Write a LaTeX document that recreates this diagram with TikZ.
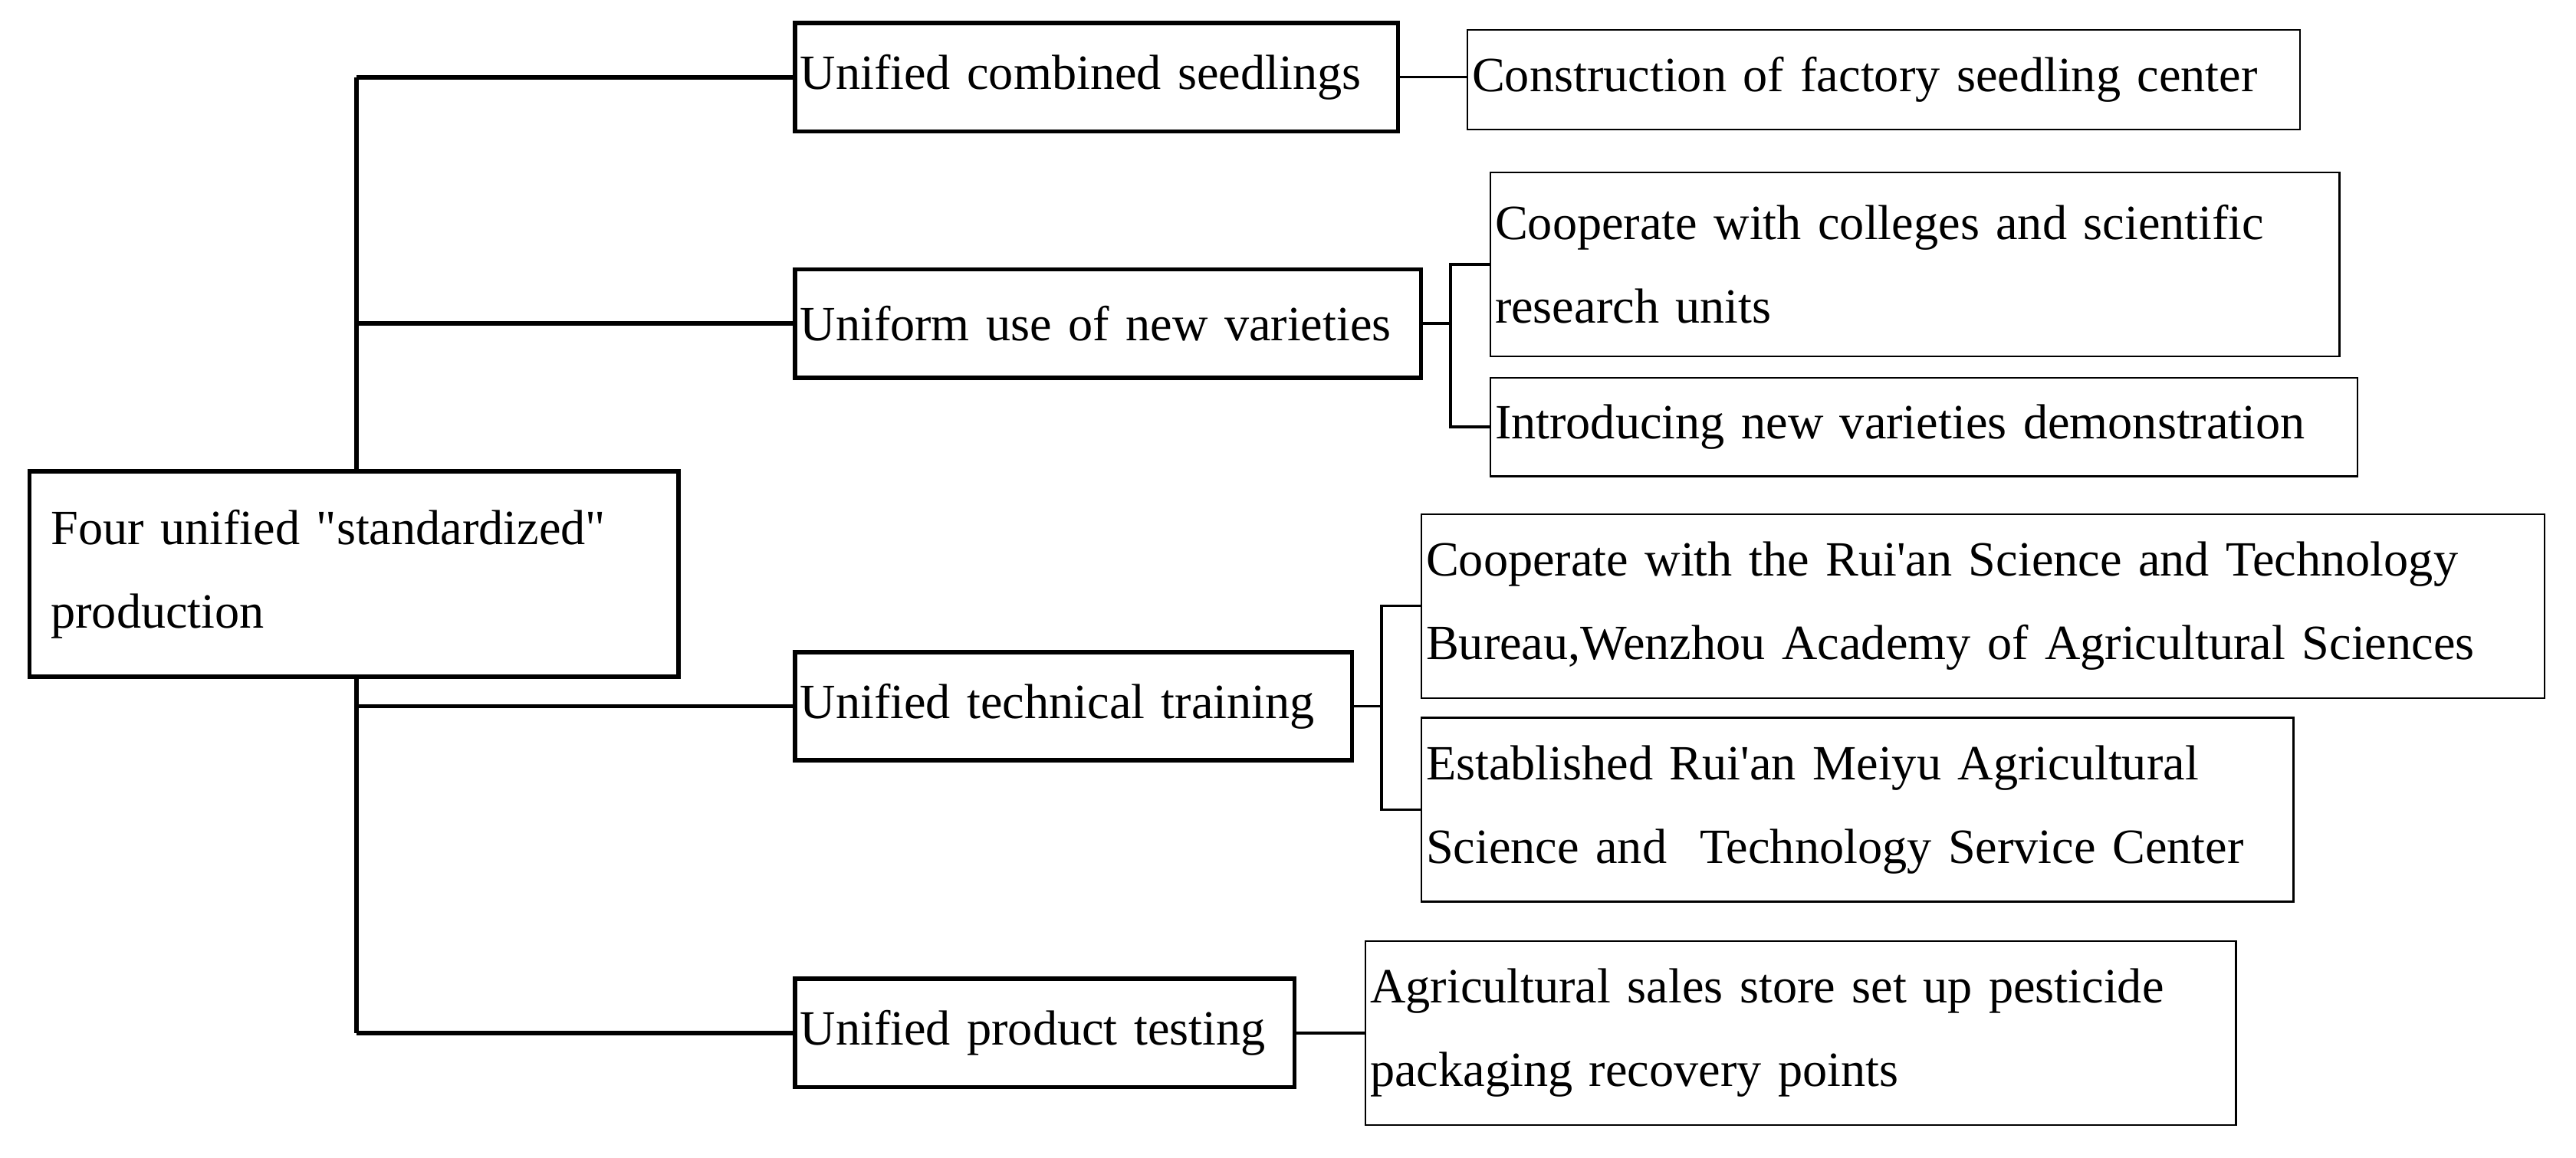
\documentclass[tikz,border=0pt]{standalone}
\usepackage{fontspec}
\setmainfont{Liberation Serif}[Ligatures=TeXOff]
\begin{document}
\begin{tikzpicture}[x=1pt,y=-1pt,
 base/.style={draw,fill=white,rectangle,inner sep=0pt,align=left,font=\fontsize{30}{51}\selectfont},
 thick box/.style={base,line width=2.6pt},
 thin box/.style={base,line width=1pt},
 trunk/.style={line width=2.6pt},
 twig/.style={line width=1.6pt}]
\useasboundingbox (0,0) rectangle (1568,705);
\newcommand{\bx}[7]{\node[#1,minimum width={#4-#3},minimum height={#6-#5},text width={#4-#3-6}] (#2) at ({(#3+#4)/2},{(#5+#6)/2}) {#7};}
\coordinate (t1) at (217,47); \coordinate (t2) at (217,197);
\coordinate (t3) at (217,430); \coordinate (t4) at (217,629);
\draw[trunk] (t1) -- (t4);
\bx{thick box}{root}{18}{413}{287}{412}{~Four unified "standardized"\\~production}
\bx{thick box}{b1}{484}{851}{14}{80}{Unified combined seedlings}
\bx{thick box}{b2}{484}{865}{164}{230}{Uniform use of new varieties}
\bx{thick box}{b3}{484}{823}{397}{463}{Unified technical training}
\bx{thick box}{b4}{484}{788}{596}{662}{Unified product testing}
\bx{thin box}{l1}{893}{1400}{18}{79}{Construction of factory seedling center}
\bx{thin box}{l2a}{907}{1424}{105}{217}{Cooperate with colleges and scientific\\research units}
\bx{thin box}{l2b}{907}{1435}{230}{290}{Introducing new varieties demonstration}
\bx{thin box}{l3a}{865}{1549}{313}{425}{Cooperate with the Rui'an Science and Technology\\Bureau,Wenzhou Academy of Agricultural Sciences}
\bx{thin box}{l3b}{865}{1396}{437}{549}{Established Rui'an Meiyu Agricultural\\Science and~ Technology Service Center}
\bx{thin box}{l4}{831}{1361}{573}{685}{Agricultural sales store set up pesticide\\packaging recovery points}
\draw[trunk] (t1) -- (b1.west);
\draw[trunk] (t2) -- (b2.west);
\draw[trunk] (t3) -- (b3.west);
\draw[trunk] (t4) -- (b4.west);
\draw[twig] (b1.east) -- (l1.west |- b1.east);
\draw[twig] (b4.east) -- (l4.west |- b4.east);
\coordinate (f2) at (883,197);
\draw[twig] (b2.east) -- (f2);
\draw[twig] (l2a.west) -| (f2) |- (l2b.west);
\coordinate (f3) at (841,430);
\draw[twig] (b3.east) -- (f3);
\draw[twig] (l3a.west) -| (f3) |- (l3b.west);
\end{tikzpicture}
\end{document}
